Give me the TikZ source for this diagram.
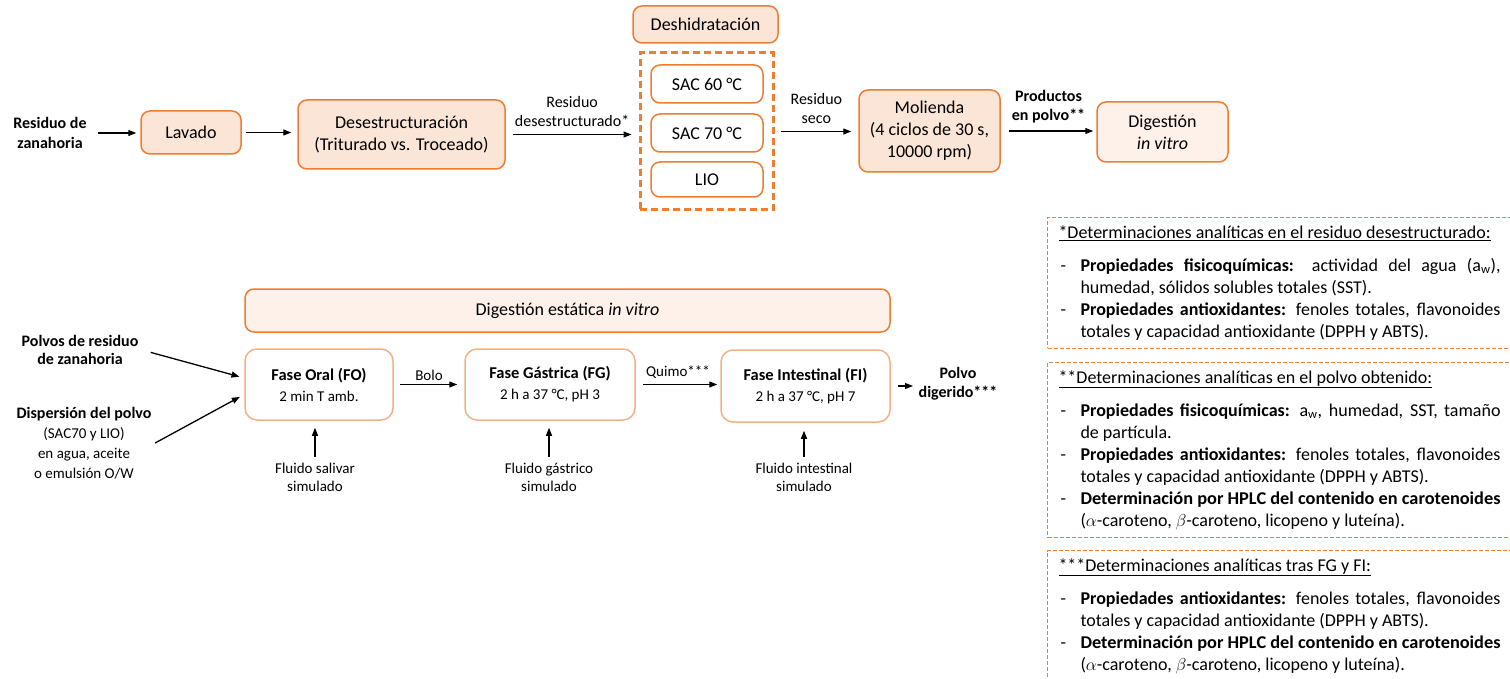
\documentclass[tikz,border=0pt]{standalone}
\usepackage{fontspec}
\setmainfont{Carlito}
\usepackage{graphicx}
\usepackage{tikz}
\usetikzlibrary{positioning}
\usetikzlibrary{arrows.meta,calc}

\definecolor{orng}{HTML}{ED7D31}
\definecolor{orngl}{HTML}{F4B183}
\definecolor{peach}{HTML}{FBE5D6}
\definecolor{peachl}{HTML}{FDF1E9}

\newcommand{\fsize}[2]{\fontsize{#1}{#2}\selectfont}
\newcommand{\itm}{\par\hangindent=22pt\hangafter=1\noindent\makebox[22pt][l]{\hspace{2pt}-}}
\newcommand{\aw}{a\textsubscript{w}}
\newcommand{\hplc}{\resizebox{420pt}{\height}{\textbf{Determinación por HPLC del contenido en carotenoides}}}

\begin{document}
\begin{tikzpicture}[x=1pt,y=-1pt,>={Triangle[length=8pt,width=6pt]},line width=1.3pt,
  box/.style={draw=orng,fill=peach,rounded corners=9pt,line width=1.5pt,align=center,inner sep=0pt,font=\fsize{18}{22}},
  wbox/.style={box,fill=white},
  fase/.style={draw=orngl,fill=white,rounded corners=12pt,line width=1.5pt,align=center,inner sep=0pt,font=\fsize{15}{21}},
  lbl/.style={align=center,font=\fsize{16}{19},inner sep=3pt},
  note/.style={draw=orng,dash pattern=on 4pt off 2pt,line width=1pt,anchor=north west,text width=442pt,align=justify,inner xsep=11pt,inner ysep=8pt,font=\fsize{18}{22}}]
  \useasboundingbox (0,0) rectangle (1510,679);

  % top row
  \node[lbl,font=\fsize{16}{20}\bfseries] (res) at (50,133) {Residuo de\\zanahoria};
  \node[box,minimum width=100pt,minimum height=43pt] (lav) at (191,132.5) {Lavado};
  \node[box,minimum width=207pt,minimum height=69pt] (des) at (401.5,134.5) {Desestructuración\\(Triturado vs. Troceado)};
  \node[box,minimum width=145pt,minimum height=37pt] (desh) at (705.5,24.5) {Deshidratación};
  \node[draw=orng,line width=3pt,dash pattern=on 7pt off 4pt,minimum width=133pt,minimum height=157pt,inner sep=0pt] (grp) at (706.5,131.5) {};
  \node[wbox,minimum width=112pt,minimum height=38pt] (sac60) at (707,84) {SAC 60 °C};
  \node[wbox,minimum width=112pt,minimum height=38pt] (sac70) at (707,133) {SAC 70 °C};
  \node[wbox,minimum width=112pt,minimum height=35pt] (lio) at (707,179.5) {LIO};
  \node[box,minimum width=141pt,minimum height=82pt] (mol) at (929.5,131) {Molienda\\(4 ciclos de 30 s,\\10000 rpm)};
  \node[box,fill=peachl,minimum width=131pt,minimum height=60pt] (dig) at (1162.5,132) {Digestión\\\textit{in vitro}};

  \draw[->,shorten <=8pt,shorten >=4pt] (res.east) -- (res.east -| lav.west);
  \draw[->,shorten <=4pt,shorten >=6pt] (lav.east) -- (lav.east -| des.west);
  \draw[->,shorten <=7pt,shorten >=7pt] (des.east) -- (des.east -| grp.west)
    node[lbl,midway,above=4pt] {Residuo\\desestructurado*};
  \draw[->,shorten <=6pt,shorten >=7pt] (grp.east) -- (grp.east -| mol.west)
    node[lbl,midway,above=4pt] {Residuo\\seco};
  \draw[->,shorten <=8pt,shorten >=3pt] (mol.east) -- (mol.east -| dig.west)
    node[lbl,midway,above=4pt,font=\fsize{16}{19}\bfseries] {Productos\\en polvo**};

  % digestion
  \node[box,fill=peachl,minimum width=645pt,minimum height=43pt] (est) at (567.5,310.5) {Digestión estática \textit{in vitro}};
  \node[fase,minimum width=148pt,minimum height=71pt] (fo) at (319,384.5) {{\fsize{16.5}{21}\bfseries Fase Oral (FO)}\\2 min T amb.};
  \node[fase,minimum width=170pt,minimum height=71pt] (fg) at (550,384.5) {{\fsize{16.5}{21}\bfseries Fase Gástrica (FG)}\\2 h a 37 °C, pH 3};
  \node[fase,minimum width=169pt,minimum height=72pt] (fi) at (805.5,386) {{\fsize{16.5}{21}\bfseries Fase Intestinal (FI)}\\2 h a 37 °C, pH 7};
  \node[lbl,font=\fsize{16}{19}\bfseries] (pd) at (958,384) {Polvo\\digerido***};

  \node[lbl,font=\fsize{16}{18}\bfseries] (pol) at (80,350) {Polvos de residuo\\de zanahoria};
  \node[lbl,font=\fsize{15}{20}] (dis) at (84,443) {{\fsize{16}{20}\bfseries Dispersión del polvo}\\(SAC70 y LIO)\\en agua, aceite\\o emulsión O/W};

  \node[lbl,font=\fsize{15}{18}] (fsal) at (315,477) {Fluido salivar\\simulado};
  \node[lbl,font=\fsize{15}{18}] (fgas) at (549,477) {Fluido gástrico\\simulado};
  \node[lbl,font=\fsize{15}{18}] (fint) at (804,477) {Fluido intestinal\\simulado};

  \draw[->,shorten <=9pt,shorten >=5pt] (pol.east) -- ([yshift=6.5pt]fo.west);
  \draw[->,shorten >=5pt] (dis.east) -- ([yshift=-10pt]fo.west);
  \draw[->,shorten <=6pt,shorten >=7pt] (fo.east) -- (fo.east -| fg.west)
    node[lbl,midway,above,font=\fsize{15}{18}] {Bolo};
  \draw[->,shorten <=7pt,shorten >=3pt] (fg.east) -- (fg.east -| fi.west)
    node[lbl,midway,above=2pt,font=\fsize{15}{18}] {Quimo***};
  \draw[->,shorten <=7pt,shorten >=2pt] (fi.east) -- (fi.east -| pd.west);
  \draw[->,shorten <=2pt,shorten >=7pt] (fsal.north) -- (fsal.north |- fo.south);
  \draw[->,shorten <=2pt,shorten >=7pt] (fgas.north) -- (fgas.north |- fg.south);
  \draw[->,shorten <=2pt,shorten >=8pt] (fint.north) -- (fint.north |- fi.south);

  % analytical notes
  \node[note] (det1) at (1047,217) {\underline{*Determinaciones analíticas en el residuo desestructurado:}\par\vspace{11pt}
    \itm\textbf{Propiedades fisicoquímicas:} actividad del agua (\aw),\linebreak humedad, sólidos solubles totales (SST).
    \itm\textbf{Propiedades antioxidantes:} fenoles totales, flavonoides\linebreak totales y capacidad antioxidante (DPPH y ABTS).\par};
  \node[note] (det2) at (1047,362) {\underline{**Determinaciones analíticas en el polvo obtenido:}\par\vspace{11pt}
    \itm\textbf{Propiedades fisicoquímicas:} \aw, humedad, SST, tamaño\linebreak de partícula.
    \itm\textbf{Propiedades antioxidantes:} fenoles totales, flavonoides\linebreak totales y capacidad antioxidante (DPPH y ABTS).
    \itm\hplc\linebreak ($\alpha$-caroteno, $\beta$-caroteno, licopeno y luteína).\par};
  \node[note] (det3) at (1047,550) {\underline{***Determinaciones analíticas tras FG y FI:}\par\vspace{11pt}
    \itm\textbf{Propiedades antioxidantes:} fenoles totales, flavonoides\linebreak totales y capacidad antioxidante (DPPH y ABTS).
    \itm\hplc\linebreak ($\alpha$-caroteno, $\beta$-caroteno, licopeno y luteína).\par\vspace{20pt}};
\end{tikzpicture}
\end{document}
